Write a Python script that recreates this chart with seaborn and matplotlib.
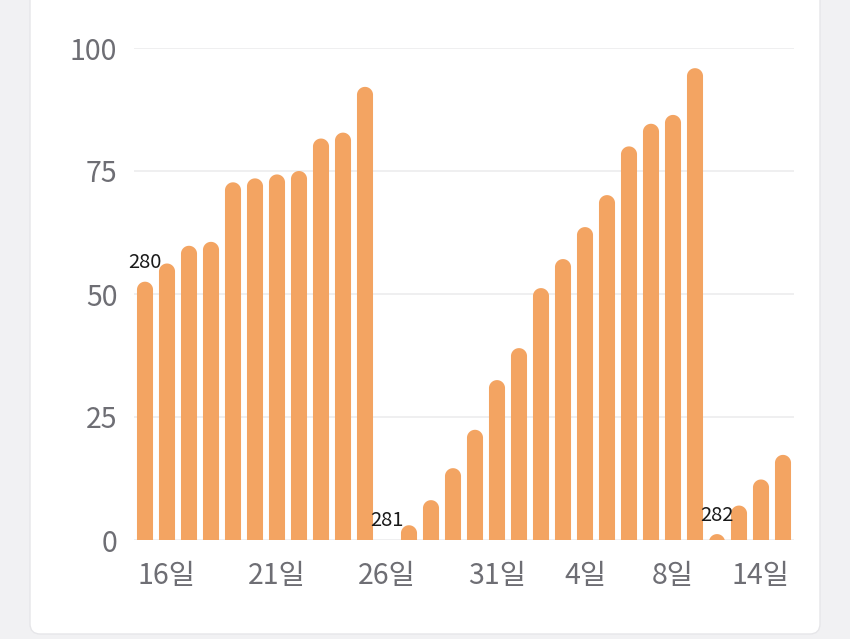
import matplotlib
matplotlib.use("Agg")
import matplotlib.pyplot as plt
import numpy as np
import seaborn as sns
from matplotlib.patches import FancyBboxPatch, Polygon

# ---- data ----
dates = ["03-15", "03-16", "03-17", "03-18", "03-19", "03-20", "03-21", "03-22",
         "03-23", "03-24", "03-25", "03-26", "03-27", "03-28", "03-29", "03-30",
         "03-31", "04-01", "04-02", "04-03", "04-04", "04-05", "04-06", "04-07",
         "04-08", "04-09", "04-10", "04-11", "04-14", "04-15"]
values = [52.5, 56.2, 59.8, 60.6, 72.7, 73.5, 74.3, 75.0, 81.6, 82.8, 92.1,
          0.0, 3.0, 8.1, 14.6, 22.4, 32.5, 39.0, 51.2, 57.1, 63.6, 70.1, 80.0,
          84.6, 86.4, 95.9, 1.2, 7.0, 12.3, 17.3]
tick_dates = ["03-16", "03-21", "03-26", "03-31", "04-04", "04-08", "04-14"]
tick_labels = ["16일", "21일", "26일", "31일", "4일", "8일", "14일"]
marker_dates = ["03-15", "03-26", "04-10"]
marker_labels = ["280", "281", "282"]
y_ticks = [0, 25, 50, 75, 100]

BAR_COLOR = "#F3A462"

sns.set_style("white")
plt.rcParams["font.family"] = ["Noto Sans CJK KR", "DejaVu Sans"]

fig = plt.figure(figsize=(8.5, 6.39), dpi=100)
fig.patch.set_facecolor("#f1f1f3")

# card background
card = FancyBboxPatch((30 / 850, 5 / 639), (820 - 30) / 850, 700 / 639,
                      boxstyle="round,pad=0,rounding_size=0.012",
                      mutation_aspect=850 / 639,
                      transform=fig.transFigure, fc="white", ec="#e6e6e9",
                      lw=1, zorder=-5)
fig.patches.append(card)

ax = fig.add_axes([134 / 850, (639 - 540) / 639, 660 / 850, 492 / 639])
ax.set_facecolor("none")
ax.set_zorder(2)

sns.barplot(x=dates, y=values, order=dates, color=BAR_COLOR, saturation=1,
            width=0.73, ax=ax)

ax.set_xlim(-0.5, len(dates) - 0.5)
ax.set_ylim(0, 100)

# replace bars with rounded-top (semicircular cap) versions
fig.canvas.draw()
x_px = ax.transData.transform((1, 0))[0] - ax.transData.transform((0, 0))[0]
y_px = ax.transData.transform((0, 1))[1] - ax.transData.transform((0, 0))[1]
aspect = x_px / y_px
theta = np.linspace(np.pi, 0, 40)
for p in list(ax.patches):
    x0, w, h = p.get_x(), p.get_width(), p.get_height()
    r = w / 2
    ry = r * aspect
    xc = x0 + r
    yc = h - ry
    ext = -12.0
    arc = np.column_stack([xc + r * np.cos(theta), yc + ry * np.sin(theta)])
    verts = np.vstack([[x0, ext], arc, [x0 + w, ext]])
    poly = Polygon(verts, closed=True, fc=BAR_COLOR, ec="none", zorder=2)
    ax.add_patch(poly)
    p.remove()

# marker annotations
for d, lab in zip(marker_dates, marker_labels):
    i = dates.index(d)
    ax.annotate(lab, (i, values[i]), xytext=(0, 19), textcoords="offset pixels",
                ha="center", va="center", fontsize=14.5, color="#1a1a1a",
                zorder=3)

ax.set_yticks(y_ticks)
ax.set_yticklabels([str(t) for t in y_ticks])
ax.set_xticks([dates.index(d) for d in tick_dates])
ax.set_xticklabels(tick_labels)
ax.tick_params(axis="both", length=0, labelsize=20.5, labelcolor="#6e6e74")
ax.tick_params(axis="y", pad=12)
ax.tick_params(axis="x", pad=15)
ax.set_xlabel("")
ax.set_ylabel("")

ax.yaxis.grid(True, color="#ececee", lw=1.2)
ax.set_axisbelow(True)
for s in ax.spines.values():
    s.set_visible(False)

fig.savefig("out.png", dpi=100, facecolor=fig.get_facecolor())
